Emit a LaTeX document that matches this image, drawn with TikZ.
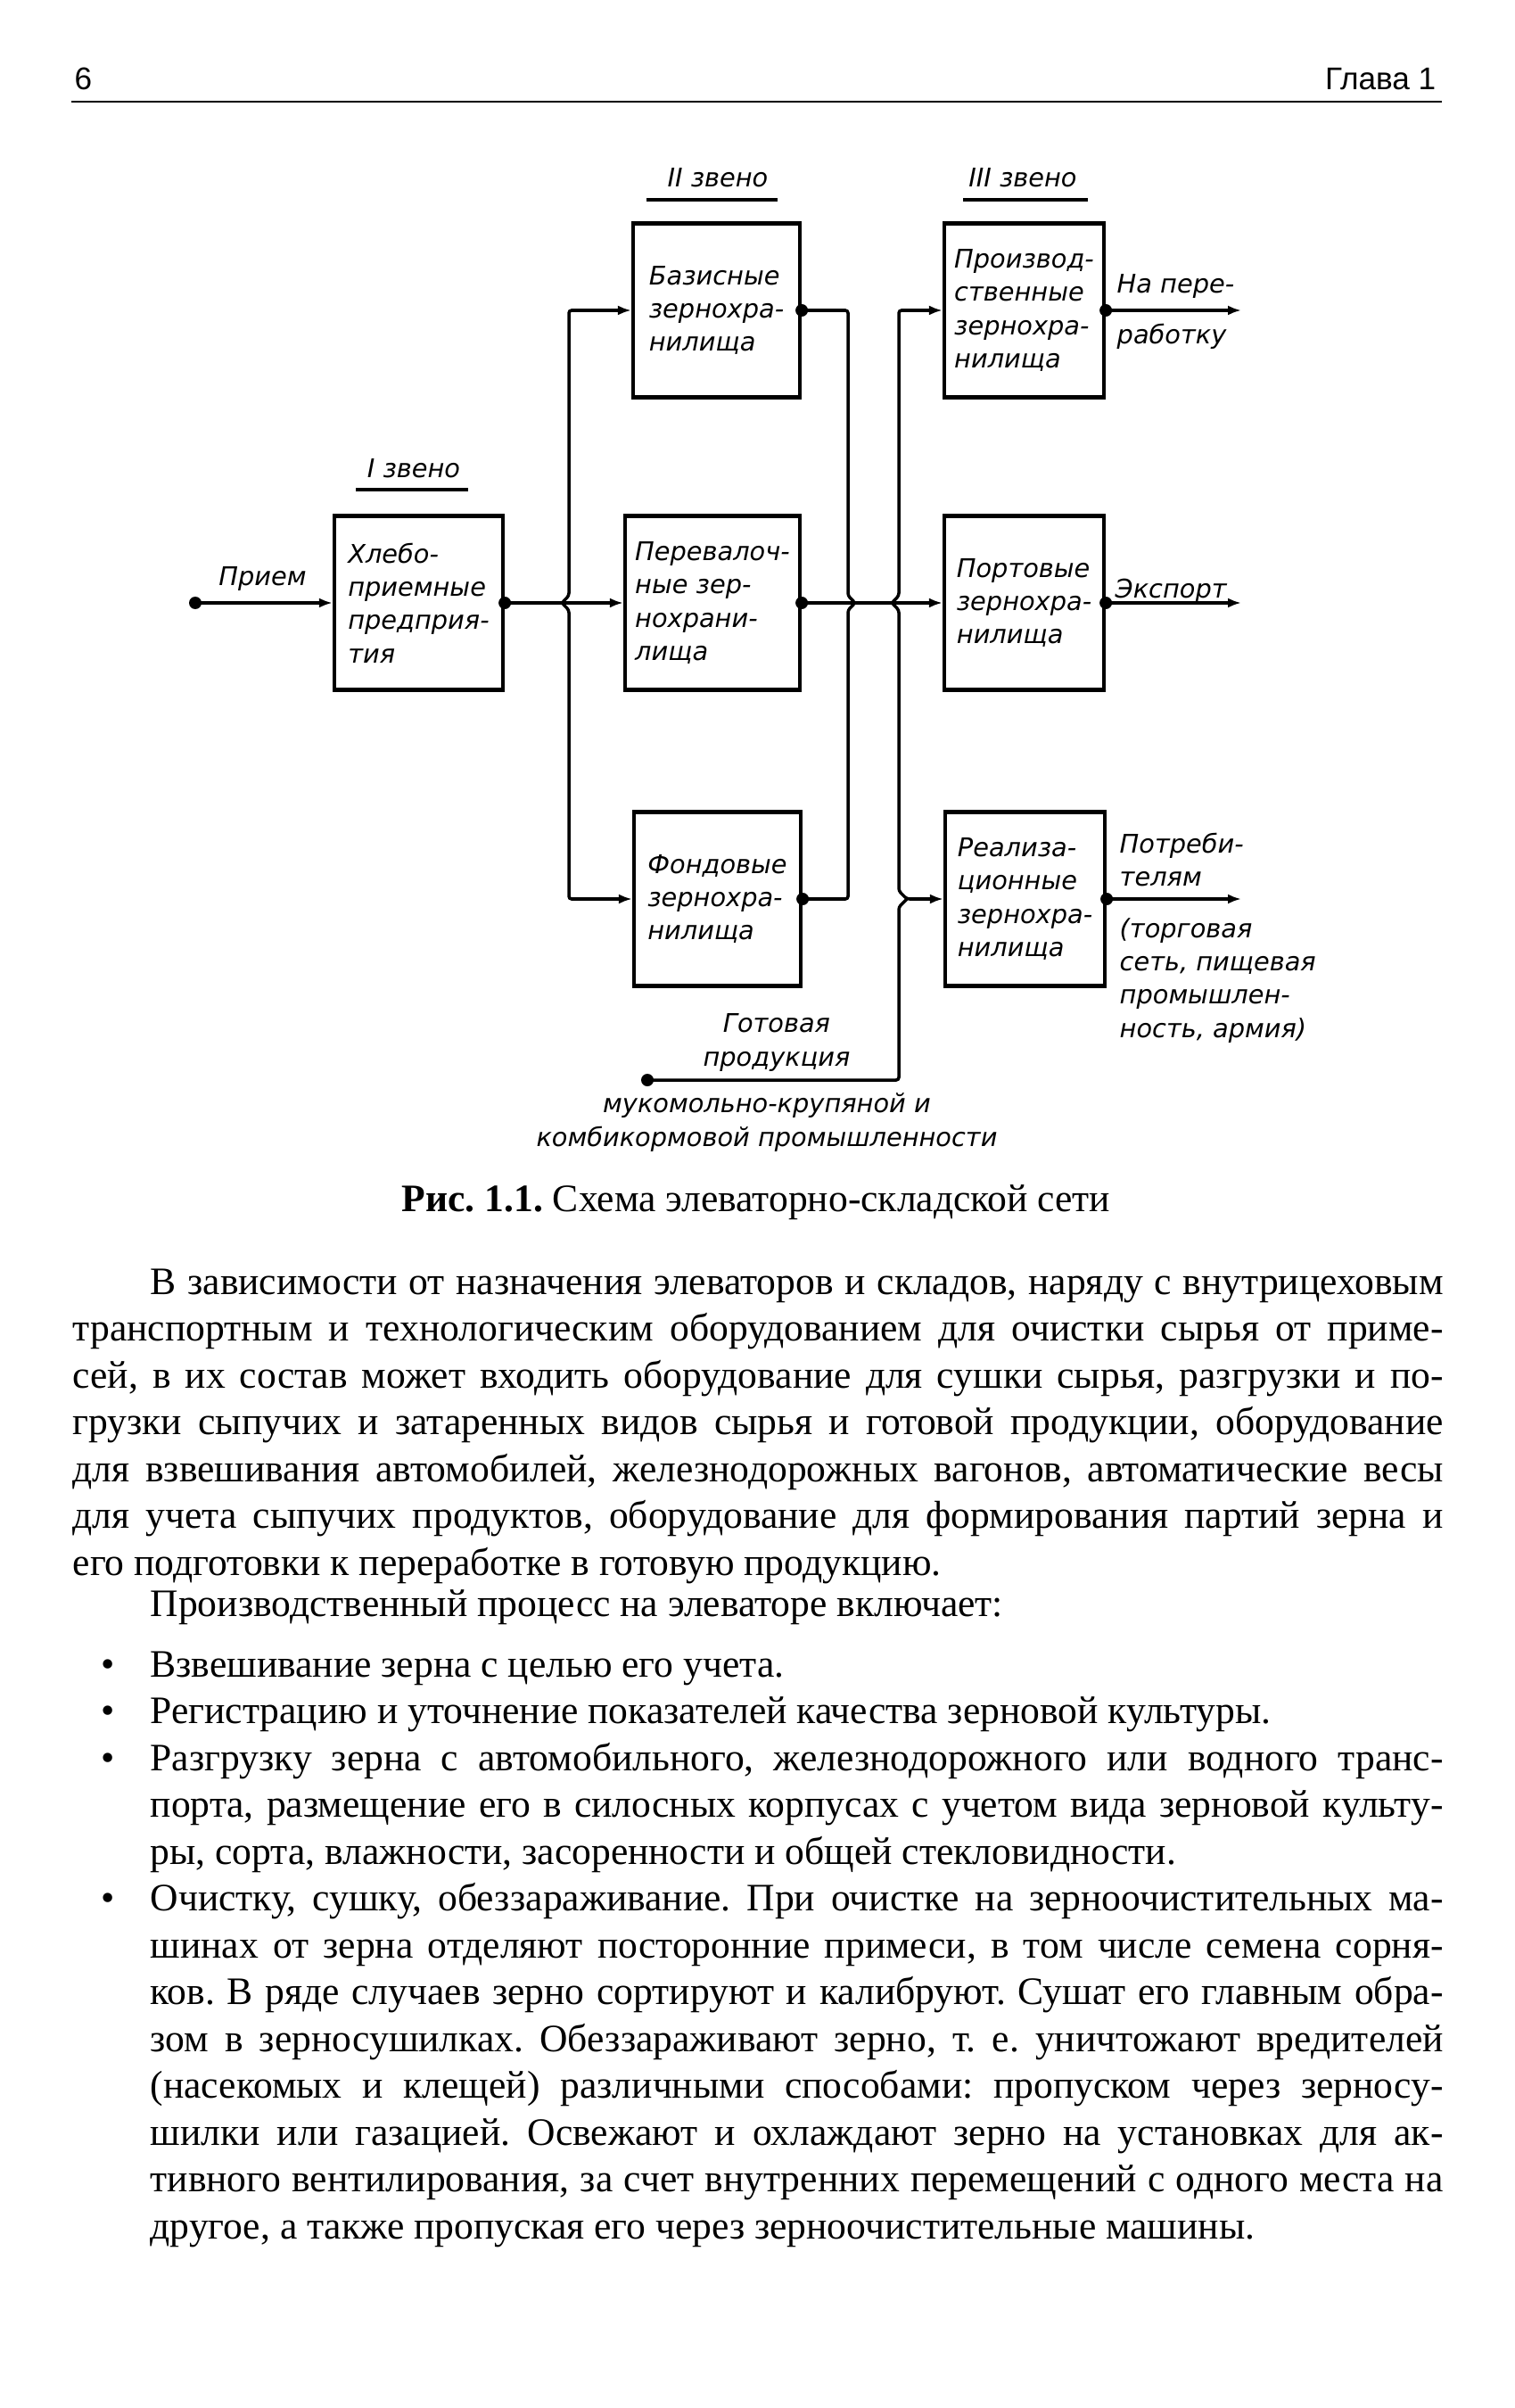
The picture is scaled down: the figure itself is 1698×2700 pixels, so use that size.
\documentclass[tikz,border=0pt]{standalone}
\usepackage{fontspec}
\setmainfont{Liberation Serif}
\newfontfamily\headfont{Liberation Sans}
\newfontfamily\schemefont{DejaVu Sans}
\usetikzlibrary{%
  arrows.meta,
  calc,
  positioning
}
\frenchspacing
\newcommand{\fullw}{153.7mm}
\newcommand{\indw}{145.0mm}
\tikzset{
  tag/.style={
    font=\schemefont\itshape\fontsize{8.2}{10.6}\selectfont,
    inner sep=0pt,
  },
  store/.style={
    tag, draw, line width=1.2pt,
    minimum width=18.7mm, minimum height=19.5mm,
    align=left,
  },
  flow/.style={line width=1pt, ->},
  bus/.style={line width=1pt, rounded corners=0.3mm},
  bar/.style={line width=1.3pt},
  body/.style={
    font=\fontsize{12.4}{14.9}\selectfont,
    inner sep=0pt, anchor=base west,
  },
}

\begin{document}
\begin{tikzpicture}[x=0.1mm, y=-0.1mm, >={Latex[length=1.5mm, width=1.1mm]}]
    \useasboundingbox (0,0) rectangle (1698,2700);

    % running head
    \node [font=\headfont\fontsize{10}{12}\selectfont, anchor=base west,
           inner sep=0pt] (folio) at (  83,  101) {6};
    \node [font=\headfont\fontsize{10}{12}\selectfont, anchor=base east,
           inner sep=0pt] (chapter) at (1611,  101) {Глава 1};
    \draw [line width=0.8pt] (  80,  114) -- (1617,  114);

    % links of the network
    \node [tag, anchor=base] (lvl1) at ( 464,  536) {I звено};
    \node [tag, anchor=base] (lvl2) at ( 805,  210) {II звено};
    \node [tag, anchor=base] (lvl3) at (1147,  210) {III звено};
    \draw [bar] ($(lvl1.base)+(-65,13)$) -- ++(126,0);
    \draw [bar] ($(lvl2.base)+(-80,14)$) -- ++(147,0);
    \draw [bar] ($(lvl3.base)+(-67,14)$) -- ++(140,0);

    % storages
    \node [store, minimum width=18.9mm] (bread)   at ( 469.5,  676)
          {Хлебо-\\приемные\\предприя-\\тия};
    \node [store] (base)    at ( 803.5,  348) {Базисные\\зернохра-\\нилища};
    \node [store, minimum width=19.6mm] (transit) at ( 799.0,  676)
          {Перевалоч-\\ные зер-\\нохрани-\\лища};
    \node [store] (reserve) at ( 804.5, 1008) {Фондовые\\зернохра-\\нилища};
    \node [store, minimum width=17.9mm] (mill)    at (1148.5,  348)
          {Производ-\\ственные\\зернохра-\\нилища};
    \node [store, minimum width=17.9mm] (port)    at (1148.5,  676)
          {Портовые\\зернохра-\\нилища};
    \node [store, minimum width=17.9mm] (sale)    at (1149.5, 1008)
          {Реализа-\\ционные\\зернохра-\\нилища};

    \coordinate (intake)     at ( 219,  676);
    \coordinate (jA)         at ( 638,  676);
    \coordinate (jB)         at ( 951,  676);
    \coordinate (jC)         at (1008,  676);
    \coordinate (jD)         at (1008, 1008);
    \coordinate (product)    at ( 726, 1211);
    \coordinate (toproc)     at (1392,  348);
    \coordinate (toexport)   at (1392,  676);
    \coordinate (toconsumer) at (1392, 1008);

    \draw [flow] (intake) -- (bread.west)
          node [tag, pos=0.49, above=1.2mm] (intakelbl) {Прием};
    \draw [flow] (bread.east) -- (transit.west);
    \draw [flow] (transit.east) -- (port.west);

    \draw [bus, <->] (base.west) -- (base.west -| jA) -- ($(jA)+(0,-8)$)
          -- ($(jA)+(-8,0)$) -- ($(jA)+(0,8)$) -- (reserve.west -| jA)
          -- (reserve.west);
    \draw [bus] (base.east) -- (base.east -| jB) -- ($(jB)+(0,-8)$)
          -- ($(jB)+(8,0)$) -- ($(jB)+(0,8)$) -- (reserve.east -| jB)
          -- (reserve.east);
    \draw [bus, <->] (mill.west) -- (mill.west -| jC) -- ($(jC)+(0,-8)$)
          -- ($(jC)+(-8,0)$) -- ($(jC)+(0,8)$) -- ($(jD)+(0,-9)$)
          -- ($(jD)+(9,0)$) -- (sale.west);
    \draw [bus] ($(jD)+(9,0)$) -- ($(jD)+(0,9)$) -- (product -| jD)
          -- (product);

    \draw [flow] (mill.east) -- (toproc);
    \draw [flow] (port.east) -- (toexport);
    \draw [flow] (sale.east) -- (toconsumer);

    \foreach \p in {intake, bread.east, base.east, transit.east, reserve.east,
                    mill.east, port.east, sale.east, product}
      \fill (\p) circle [radius=0.7mm];

    % outlets (base = last line)
    \node [tag, anchor=base west, align=left] (proclbl) at (1252,  386)
          {На пере-\\[2mm]работку};
    \node [tag, anchor=base west] (exportlbl) at (1250,  670) {Экспорт};
    \node [tag, anchor=base west, align=left] (consumerlbl) at (1255, 1163)
          {Потреби-\\телям\\[2mm](торговая\\сеть, пищевая\\промышлен-\\ность, армия)};
    \node [tag, anchor=base, align=center] (productlbl) at ( 871, 1195)
          {Готовая\\продукция};
    \node [tag, anchor=base, align=center] (industrylbl) at ( 860, 1285)
          {мукомольно-крупяной и\\комбикормовой промышленности};

    % caption
    \node [font=\fontsize{12.4}{14}\selectfont, anchor=base, inner sep=0pt]
          (caption) at ( 848, 1358)
          {\textbf{Рис. 1.1.} Схема элеваторно-складской сети};

    % text
    \node [body] (p1) at ( 168, 1451.0) {\makebox[\indw][s]{В зависимости от назначения элеваторов и складов, наряду с внутрицеховым}};
    \node [body] (p2) at (  81, 1503.5) {\makebox[\fullw][s]{транспортным и технологическим оборудованием для очистки сырья от приме-}};
    \node [body] (p3) at (  81, 1556.0) {\makebox[\fullw][s]{сей, в их состав может входить оборудование для сушки сырья, разгрузки и по-}};
    \node [body] (p4) at (  81, 1608.5) {\makebox[\fullw][s]{грузки сыпучих и затаренных видов сырья и готовой продукции, оборудование}};
    \node [body] (p5) at (  81, 1661.0) {\makebox[\fullw][s]{для взвешивания автомобилей, железнодорожных вагонов, автоматические весы}};
    \node [body] (p6) at (  81, 1713.5) {\makebox[\fullw][s]{для учета сыпучих продуктов, оборудование для формирования партий зерна и}};
    \node [body] (p7) at (  81, 1766.0) {его подготовки к переработке в готовую продукцию.};
    \node [body] (q1) at ( 168, 1812.0) {Производственный процесс на элеваторе включает:};

    \foreach \y in {1880.0, 1932.5, 1985.0, 2142.5}
      \node [body, anchor=base] at ( 121, \y) {\textbullet};
    \node [body] (b1) at ( 168, 1880.0) {Взвешивание зерна с целью его учета.};
    \node [body] (b2) at ( 168, 1932.5) {Регистрацию и уточнение показателей качества зерновой культуры.};
    \node [body] (b3a) at ( 168, 1985.0) {\makebox[\indw][s]{Разгрузку зерна с автомобильного, железнодорожного или водного транс-}};
    \node [body] (b3b) at ( 168, 2037.5) {\makebox[\indw][s]{порта, размещение его в силосных корпусах с учетом вида зерновой культу-}};
    \node [body] (b3c) at ( 168, 2090.0) {ры, сорта, влажности, засоренности и общей стекловидности.};
    \node [body] (b4a) at ( 168, 2142.5) {\makebox[\indw][s]{Очистку, сушку, обеззараживание. При очистке на зерноочистительных ма-}};
    \node [body] (b4b) at ( 168, 2195.0) {\makebox[\indw][s]{шинах от зерна отделяют посторонние примеси, в том числе семена сорня-}};
    \node [body] (b4c) at ( 168, 2247.5) {\makebox[\indw][s]{ков. В ряде случаев зерно сортируют и калибруют. Сушат его главным обра-}};
    \node [body] (b4d) at ( 168, 2300.0) {\makebox[\indw][s]{зом в зерносушилках. Обеззараживают зерно, т. е. уничтожают вредителей}};
    \node [body] (b4e) at ( 168, 2352.5) {\makebox[\indw][s]{(насекомых и клещей) различными способами: пропуском через зерносу-}};
    \node [body] (b4f) at ( 168, 2405.0) {\makebox[\indw][s]{шилки или газацией. Освежают и охлаждают зерно на установках для ак-}};
    \node [body] (b4g) at ( 168, 2457.5) {\makebox[\indw][s]{тивного вентилирования, за счет внутренних перемещений с одного места на}};
    \node [body] (b4h) at ( 168, 2510.0) {другое, а также пропуская его через зерноочистительные машины.};
\end{tikzpicture}
\end{document}
